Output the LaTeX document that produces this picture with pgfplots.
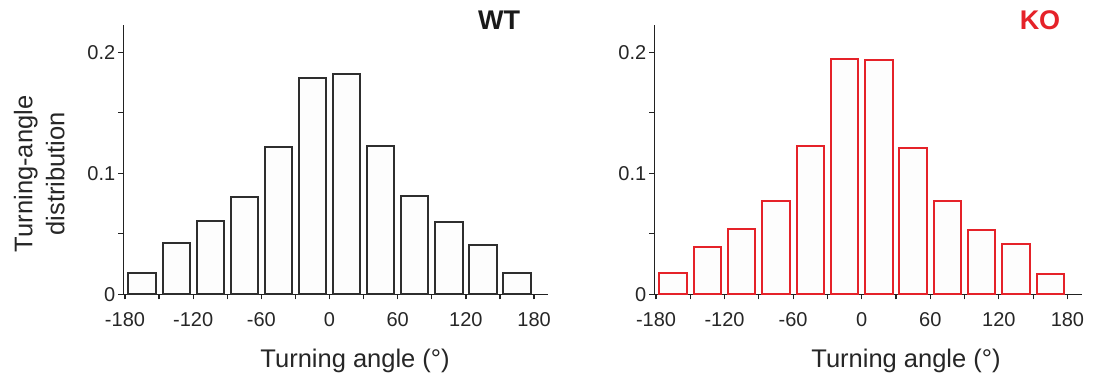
\documentclass[border=0pt]{standalone}
\usepackage{pgfplots}
\pgfplotsset{compat=1.18}
\usepackage{fontspec}
\setmainfont{Liberation Sans}
\definecolor{wtedge}{HTML}{2E2E2E}
\definecolor{wtfill}{HTML}{FDFDFD}
\definecolor{kored}{HTML}{E52229}
\definecolor{axcol}{HTML}{222222}
\pgfplotsset{panel/.style={
  scale only axis, height=134.65pt,
  xmin=-181.5, xmax=192.5, ymin=0, ymax=0.2226,
  axis lines*=left, axis line style={axcol, line width=0.75pt},
  xtick={-180,-120,-60,0,60,120,180},
  xticklabels={-180,-120,-60,0,60,120,180},
  minor xtick={-150,-90,-30,30,90,150},
  ytick={0,0.1,0.2}, yticklabels={0,0.1,0.2},
  minor ytick={0.05,0.15},
  xtick align=inside, ytick align=outside,
  major tick length=2.5pt, minor tick length=2.5pt,
  tick style={axcol, line width=0.6pt},
  ticklabel style={font=\fontsize{10}{12}\selectfont, text=black!85},
  xticklabel style={yshift=-3pt},
  yticklabel style={xshift=2pt},
  /pgf/number format/assume math mode=true,
  ybar, bar width=24,
  clip=false,
}}
\begin{document}
\begin{tikzpicture}
\begin{axis}[panel, width=212.5pt, at={(0pt,0pt)}, anchor=south west]
\addplot[draw=wtedge, fill=wtfill, line width=1pt] coordinates {
(-165,0.0174) (-135,0.042) (-105,0.061) (-75,0.0807) (-45,0.1215) (-15,0.179)
(15,0.182) (45,0.1226) (75,0.0815) (105,0.060) (135,0.041) (165,0.018)};
\end{axis}
\begin{axis}[panel, width=213.7pt, at={(265.5pt,0pt)}, anchor=south west]
\addplot[draw=kored, fill=wtfill, line width=1pt] coordinates {
(-165,0.0179) (-135,0.0394) (-105,0.0543) (-75,0.0774) (-45,0.1229) (-15,0.1948)
(15,0.1934) (45,0.1207) (75,0.0771) (105,0.0534) (135,0.0419) (165,0.0171)};
\end{axis}
\node[rotate=90, align=center, font=\fontsize{12.75}{16}\selectfont, text=black!85] at (-42pt,60.2pt) {Turning-angle\\distribution};
\node[anchor=base, font=\fontsize{12.75}{15}\selectfont, text=black!85] at (115.9pt,-36.35pt) {Turning angle (°)};
\node[anchor=base, font=\fontsize{12.75}{15}\selectfont, text=black!85] at (391.35pt,-36.35pt) {Turning angle (°)};
\node[font=\fontsize{13.5}{16}\bfseries, text=black!90] at (187.85pt,137.15pt) {WT};
\node[font=\fontsize{13.5}{16}\bfseries, text=kored] at (458.35pt,137.15pt) {KO};
\pgfresetboundingbox
\path[use as bounding box] (-61.65pt,-43.35pt) rectangle (485.35pt,147.15pt);
\end{tikzpicture}
\end{document}
